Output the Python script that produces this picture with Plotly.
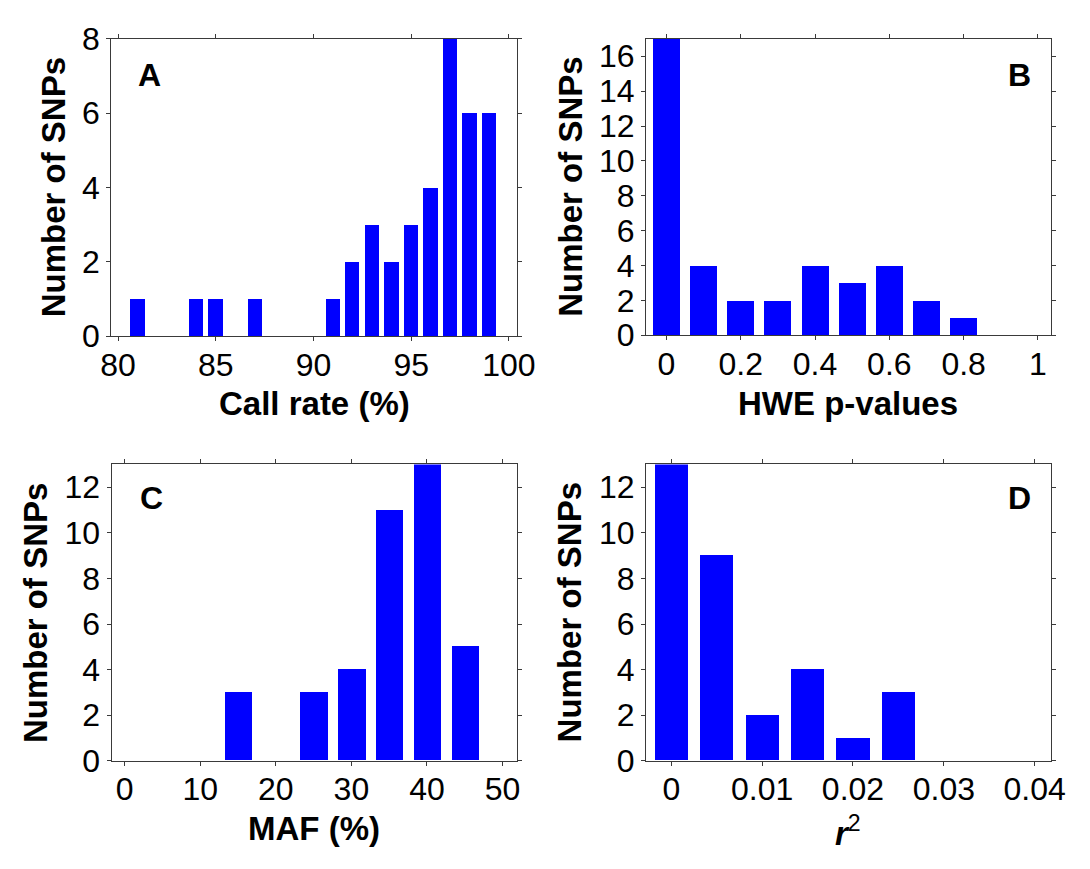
import plotly.graph_objects as go

# ---------------- data ----------------
call_rate_bins = [81, 82, 83, 84, 85, 86, 87, 88, 89, 90, 91, 92, 93, 94, 95, 96, 97, 98, 99]
call_rate_counts = [1, 0, 0, 1, 1, 0, 1, 0, 0, 0, 1, 2, 3, 2, 3, 4, 8, 6, 6]

hwe_bins = [0.0, 0.1, 0.2, 0.3, 0.4, 0.5, 0.6, 0.7, 0.8, 0.9]
hwe_counts = [17, 4, 2, 2, 4, 3, 4, 2, 1, 0]

maf_bins = [0, 5, 10, 15, 20, 25, 30, 35, 40, 45]
maf_counts = [0, 0, 0, 3, 0, 3, 4, 11, 13, 5]

r2_bins = [0.0, 0.005, 0.01, 0.015, 0.02, 0.025]
r2_counts = [13, 9, 2, 4, 1, 3]

panel_letters = ["A", "B", "C", "D"]
x_titles = ["<b>Call rate (%)</b>", "<b>HWE p-values</b>", "<b>MAF (%)</b>",
            "<b><i>r</i></b><sup>2</sup>"]
y_title = "<b>Number of SNPs</b>"

# ---------------- layout helpers ----------------
W, H = 1090, 869
FONT = "Liberation Sans, Arial, Helvetica, sans-serif"
BLUE = "#0000ff"
AX = "#3a3a3a"


def fx(px):
    return px / W


def fy(py):
    return 1 - py / H


panels = [
    dict(x=call_rate_bins, y=call_rate_counts, w=0.73, xr=[79.65, 100.42],
         xt=[80, 85, 90, 95, 100], yr=[0, 8], yt=[0, 2, 4, 6, 8],
         box=(103, 520, 21.7, 332)),
    dict(x=hwe_bins, y=hwe_counts, w=0.073, xr=[-0.055, 1.034],
         xt=[0, 0.2, 0.4, 0.6, 0.8, 1], yr=[0, 17], yt=list(range(0, 17, 2)),
         box=(652.3, 1068, 21.7, 331)),
    dict(x=maf_bins, y=maf_counts, w=3.62, xr=[-1.73, 51.93],
         xt=[0, 10, 20, 30, 40, 50], yr=[0, 13], yt=list(range(0, 13, 2)),
         box=(103.3, 520, 465.7, 775)),
    dict(x=r2_bins, y=r2_counts, w=0.00366, xr=[-0.00279, 0.04175],
         xt=[0, 0.01, 0.02, 0.03, 0.04], yr=[0, 13], yt=list(range(0, 13, 2)),
         box=(652.3, 1068, 465.7, 775)),
]

letter_pos = [(142, 59), (1036, 59), (144, 501), (1036, 501)]
xtitle_y = [402, 402, 846, 848]
ytitle_x = [44, 574, 25, 574]

fig = go.Figure()
annotations = []
layout_axes = {}

for i, p in enumerate(panels):
    n = "" if i == 0 else str(i + 1)
    xa, ya = "x" + n, "y" + n
    fig.add_trace(go.Bar(
        x=p["x"], y=p["y"], width=p["w"], xaxis=xa, yaxis=ya,
        marker=dict(color=BLUE, line=dict(width=0)),
        showlegend=False, hoverinfo="x+y",
    ))
    l, r, t, b = p["box"]
    common = dict(showline=True, linecolor=AX, linewidth=1, mirror="ticks",
                  ticks="outside", ticklen=4, tickcolor=AX, tickwidth=1,
                  showgrid=False, zeroline=False, fixedrange=True,
                  tickfont=dict(family=FONT, size=32, color="black"))
    layout_axes["xaxis" + n] = dict(domain=[fx(l), fx(r)], range=p["xr"],
                                    tickvals=p["xt"], anchor=ya,
                                    ticklabelstandoff=-4, **common)
    layout_axes["yaxis" + n] = dict(domain=[fy(b), fy(t)], range=p["yr"],
                                    tickvals=p["yt"], anchor=xa, **common)

    lx, ly = letter_pos[i]
    annotations.append(dict(text="<b>%s</b>" % panel_letters[i], x=fx(lx), y=fy(ly),
                            xref="paper", yref="paper", showarrow=False,
                            xanchor="center", yanchor="middle",
                            font=dict(family=FONT, size=32, color="black")))
    annotations.append(dict(text=x_titles[i], x=fx((l + r) / 2), y=fy(xtitle_y[i]),
                            xref="paper", yref="paper", showarrow=False,
                            xanchor="center", yanchor="middle",
                            font=dict(family=FONT, size=33, color="black")))
    annotations.append(dict(text=y_title, x=fx(ytitle_x[i]), y=fy((t + b) / 2),
                            xref="paper", yref="paper", showarrow=False,
                            textangle=-90, xanchor="center", yanchor="middle",
                            font=dict(family=FONT, size=33, color="black")))

fig.update_layout(
    width=W, height=H,
    margin=dict(l=0, r=0, t=0, b=0),
    paper_bgcolor="white", plot_bgcolor="white",
    bargap=0, annotations=annotations,
    font=dict(family=FONT, color="black"),
    **layout_axes,
)

fig.write_html("out.html")
